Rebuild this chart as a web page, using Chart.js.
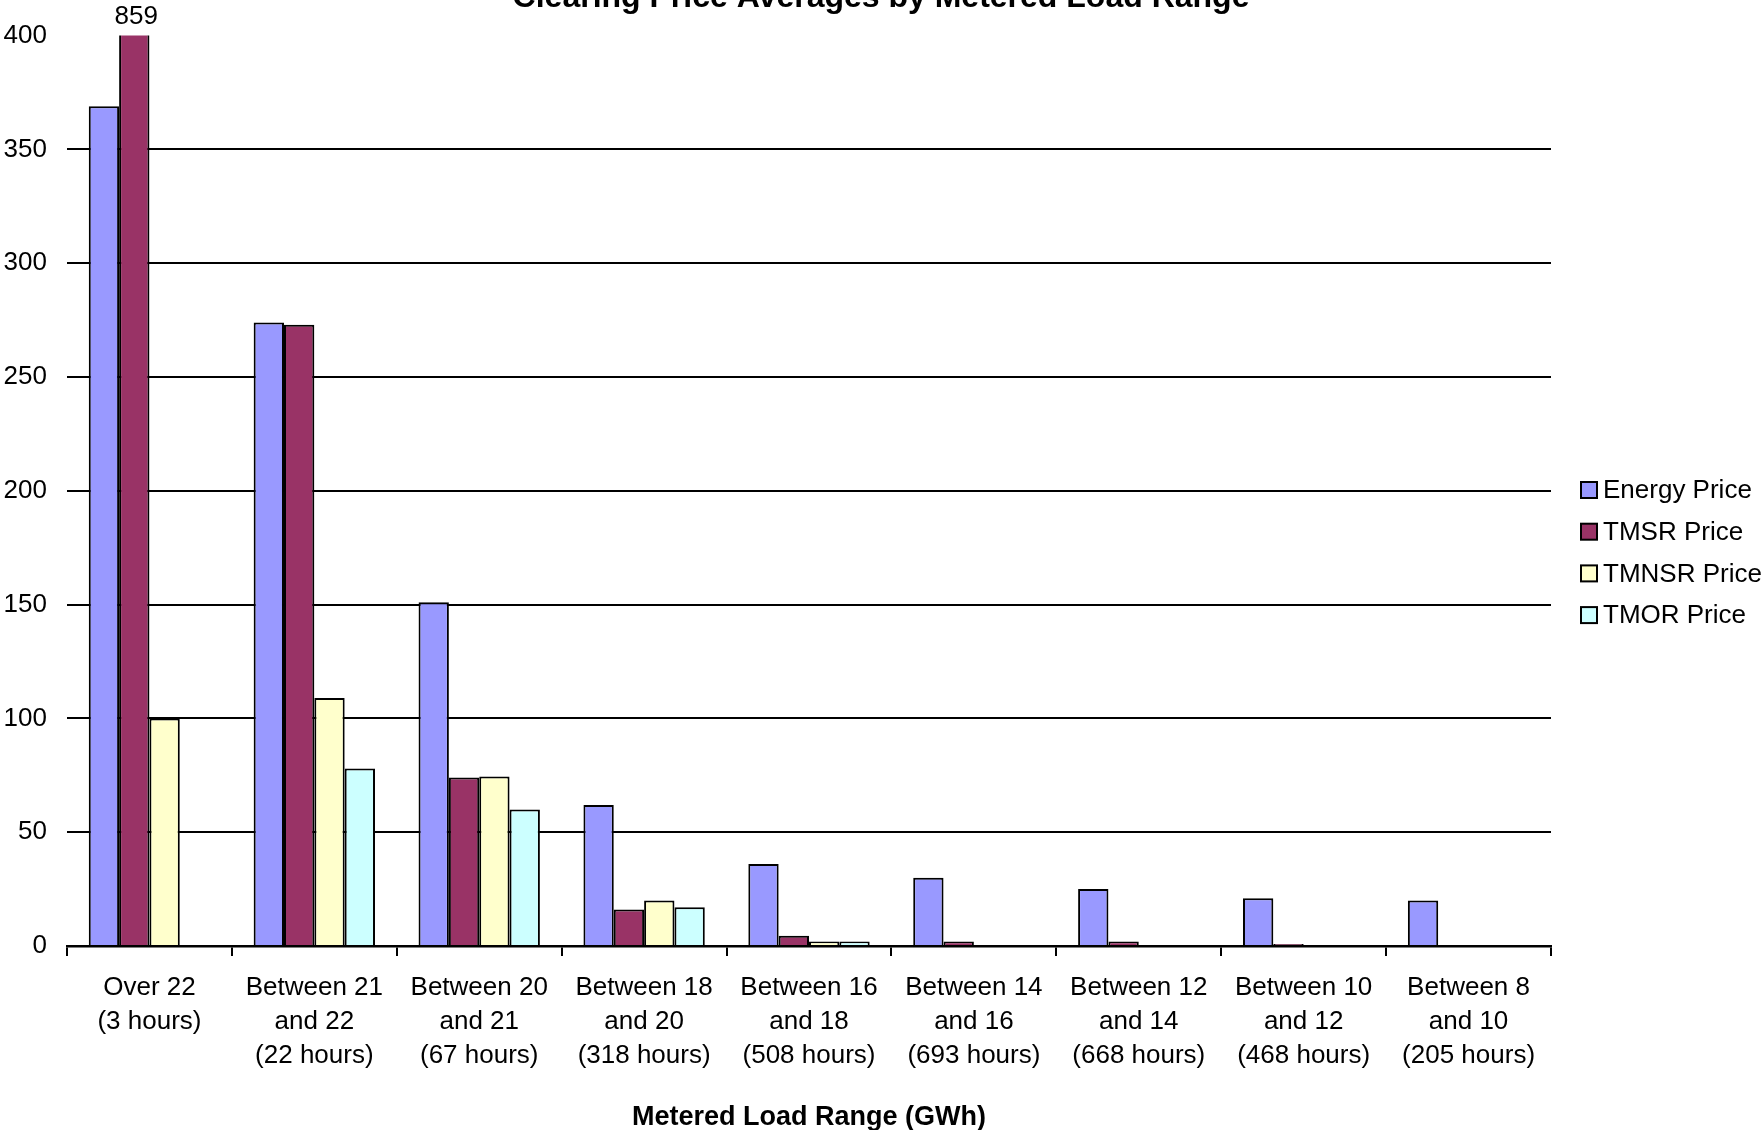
<!DOCTYPE html>
<html>
<head>
<meta charset="utf-8">
<script src="https://cdn.jsdelivr.net/npm/chart.js@4.4.1/dist/chart.umd.min.js"></script>
<style>
  html, body { margin: 0; padding: 0; background: #fff; }
  #wrap { width: 1762px; height: 1130px; position: relative; }
</style>
</head>
<body>
<div id="wrap"><canvas id="priceChart" width="1762" height="1130"></canvas></div>
<script>
const categories = [
  ['Over 22', '(3 hours)'],
  ['Between 21', 'and 22', '(22 hours)'],
  ['Between 20', 'and 21', '(67 hours)'],
  ['Between 18', 'and 20', '(318 hours)'],
  ['Between 16', 'and 18', '(508 hours)'],
  ['Between 14', 'and 16', '(693 hours)'],
  ['Between 12', 'and 14', '(668 hours)'],
  ['Between 10', 'and 12', '(468 hours)'],
  ['Between 8', 'and 10', '(205 hours)']
];
const seriesNames = ['Energy Price', 'TMSR Price', 'TMNSR Price', 'TMOR Price'];
const seriesColors = ['#9999FF', '#993366', '#FFFFCC', '#CCFFFF'];

const energyPrice = [369, 274, 151, 62, 36, 30, 25, 21, 20];
const tmsrPrice   = [859, 273, 74, 16, 4.5, 2, 2, 0.9, null];
const tmnsrPrice  = [100, 109, 74.5, 20, 2, null, null, null, null];
const tmorPrice   = [null, 78, 60, 17, 2, null, null, null, null];

const yTicks = [0, 50, 100, 150, 200, 250, 300, 350, 400];
const chartTitle = 'Clearing Price Averages by Metered Load Range';
const xTitle = 'Metered Load Range (GWh)';

const FONT = '"Liberation Sans", Arial, Helvetica, sans-serif';
const seriesValues = [energyPrice, tmsrPrice, tmnsrPrice, tmorPrice];

// title sits partly above the canvas top like in the original export
const topTitle = {
  id: 'topTitle',
  afterDraw(chart) {
    const ctx = chart.ctx;
    ctx.save();
    ctx.font = 'bold 32px ' + FONT;
    ctx.fillStyle = '#000';
    ctx.textAlign = 'center';
    ctx.textBaseline = 'alphabetic';
    ctx.fillText(chartTitle, chart.width / 2, 7);
    ctx.restore();
  }
};

// value label for the clipped TMSR bar
const clippedLabel = {
  id: 'clippedLabel',
  afterDatasetsDraw(chart) {
    const yMax = chart.scales.y.max;
    const ctx = chart.ctx;
    ctx.save();
    ctx.font = '26px ' + FONT;
    ctx.fillStyle = '#000';
    ctx.textAlign = 'center';
    ctx.textBaseline = 'middle';
    chart.data.datasets.forEach((ds, i) => {
      const meta = chart.getDatasetMeta(i);
      ds.data.forEach((v, j) => {
        if (v != null && v > yMax) {
          const bar = meta.data[j];
          ctx.fillText(String(v), bar.x + 2, chart.chartArea.top - 19);
        }
      });
    });
    ctx.restore();
  }
};

// legend on the right, drawn by hand so it can sit below centre
const sideLegend = {
  id: 'sideLegend',
  afterDraw(chart) {
    const ctx = chart.ctx;
    const x0 = chart.chartArea.right + 30;
    const y0 = 490;
    ctx.save();
    ctx.font = '26px ' + FONT;
    ctx.textBaseline = 'middle';
    chart.data.datasets.forEach((ds, i) => {
      const y = y0 + i * 41.7;
      ctx.fillStyle = ds.backgroundColor;
      ctx.fillRect(x0, y - 8, 16, 16);
      ctx.lineWidth = 2;
      ctx.strokeStyle = '#000';
      ctx.strokeRect(x0, y - 8, 16, 16);
      ctx.fillStyle = '#000';
      ctx.fillText(ds.label, x0 + 22, y + 1);
    });
    ctx.restore();
  }
};

new Chart(document.getElementById('priceChart'), {
  type: 'bar',
  data: {
    labels: categories,
    datasets: seriesNames.map((name, i) => ({
      label: name,
      data: seriesValues[i],
      backgroundColor: seriesColors[i],
      borderColor: '#000',
      borderWidth: 2,
      barPercentage: 1,
      categoryPercentage: 0.736
    }))
  },
  options: {
    responsive: false,
    animation: false,
    layout: { padding: { left: 0, right: 211, top: 34, bottom: 0 } },
    plugins: {
      legend: { display: false },
      title: { display: false },
      tooltip: { enabled: false }
    },
    scales: {
      x: {
        grid: {
          offset: true,
          drawOnChartArea: false,
          drawTicks: true,
          tickLength: 10,
          color: '#000',
          lineWidth: 2
        },
        border: { display: true, color: '#000', width: 2.5 },
        ticks: {
          color: '#000',
          font: { family: FONT, size: 26, lineHeight: 1.3 },
          padding: 15,
          maxRotation: 0,
          autoSkip: false
        },
        title: {
          display: true,
          text: xTitle,
          color: '#000',
          font: { family: FONT, size: 27, weight: 'bold' },
          padding: { top: 0, bottom: -4 }
        },
        afterFit(scale) { scale.height = 184; }
      },
      y: {
        min: 0,
        max: 400,
        afterBuildTicks(scale) { scale.ticks = yTicks.map(v => ({ value: v })); },
        grid: {
          drawTicks: false,
          color: ctx => (ctx.tick && ctx.tick.value === 400 ? 'rgba(0,0,0,0)' : '#000'),
          lineWidth: 2
        },
        border: { display: false },
        ticks: {
          color: '#000',
          font: { family: FONT, size: 26 },
          padding: 20
        },
        afterFit(scale) { scale.width = 67; }
      }
    }
  },
  plugins: [topTitle, clippedLabel, sideLegend]
});
</script>
</body>
</html>
